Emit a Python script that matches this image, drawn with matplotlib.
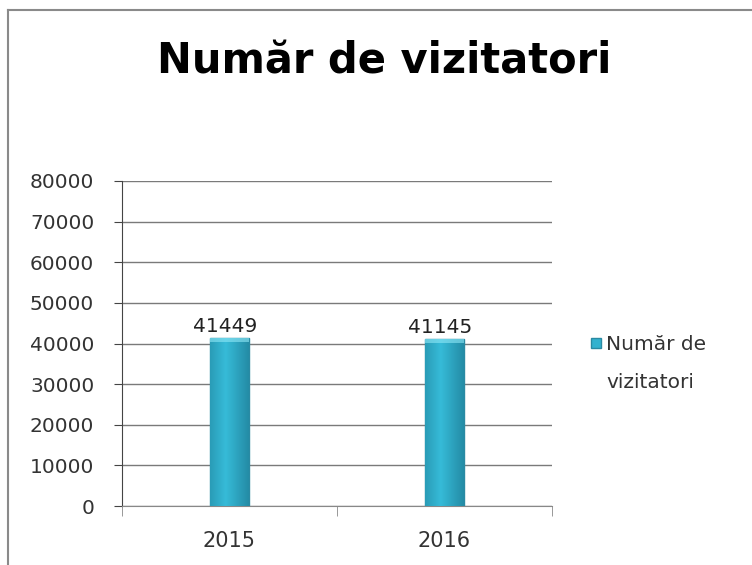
import numpy as np
import matplotlib.pyplot as plt
from matplotlib.lines import Line2D
from matplotlib.patches import Rectangle

years = ['2015', '2016']
visitors = [41449, 41145]
yticks = [0, 10000, 20000, 30000, 40000, 50000, 60000, 70000, 80000]
title = 'Număr de vizitatori'
series_lines = ['Număr de', 'vizitatori']

fig = plt.figure(figsize=(7.52, 5.65), dpi=100)
ax = fig.add_axes([122 / 752, 1 - 506 / 565, 430 / 752, 325 / 565])

# outer frame of the original chart (top and left edges only visible)
fig.add_artist(Line2D([8 / 752, 8 / 752], [0, 1 - 10 / 565], color='#8a8a8a', lw=1.5,
                      transform=fig.transFigure))
fig.add_artist(Line2D([8 / 752, 1], [1 - 10 / 565, 1 - 10 / 565], color='#8a8a8a', lw=1.5,
                      transform=fig.transFigure))

x = np.arange(len(years))
bars = ax.bar(x, visitors, width=0.18, color='#33b2cf', edgecolor='#2a8aa3', lw=1, zorder=3)

# horizontal shading inside each bar
grad = np.linspace(0, 1, 64)
shade = np.clip(1 - np.abs(grad - 0.4) * 1.3, 0, 1)
cmap = plt.matplotlib.colors.LinearSegmentedColormap.from_list('c', ['#1f7f98', '#36bbd8'])
for b in bars:
    x0, w, h = b.get_x(), b.get_width(), b.get_height()
    im = ax.imshow(shade[None, :], extent=[x0, x0 + w, 0, h], aspect='auto', cmap=cmap,
                   vmin=0, vmax=1, zorder=3.5)
    im.set_clip_path(b)
    ax.add_patch(Rectangle((x0, h - 1100), w, 1100, color='#8fe8f7', alpha=0.6, lw=0,
                           zorder=3.6, clip_path=b))

for xi, v in zip(x, visitors):
    ax.text(xi - 0.02, v + 400, str(v), ha='center', va='bottom', fontsize=14.5, color='#222222')

ax.set_xlim(-0.5, 1.5)
ax.set_ylim(0, 80000)
ax.set_yticks(yticks)
ax.set_yticklabels([str(t) for t in yticks], fontsize=14.5, color='#333333')
ax.set_xticks(x)
ax.set_xticklabels(years, fontsize=15, color='#333333')
ax.set_xticks([-0.5, 0.5, 1.5], minor=True)
ax.tick_params(axis='x', which='major', length=0, pad=18)
ax.tick_params(axis='x', which='minor', length=7, color='#888888', direction='out')
ax.tick_params(axis='y', length=6, color='#444444', pad=14, direction='out')

ax.yaxis.grid(True, color='#7a7a7a', lw=1, zorder=0)
ax.set_axisbelow(True)
for s in ['top', 'right']:
    ax.spines[s].set_visible(False)
ax.spines['left'].set_color('#444444')
ax.spines['bottom'].set_color('#888888')

fig.text(384 / 752, 1 - 61 / 565, title, ha='center', va='center', fontsize=30,
         fontweight='bold', color='black')

fig.add_artist(Rectangle((591 / 752, 1 - 348 / 565), 10 / 752, 10 / 565, facecolor='#33b2cf',
                         edgecolor='#2a8aa3', transform=fig.transFigure))
fig.text(606 / 752, 1 - 345 / 565, series_lines[0], ha='left', va='center', fontsize=14.5,
         color='#333333')
fig.text(606 / 752, 1 - 382 / 565, series_lines[1], ha='left', va='center', fontsize=14.5,
         color='#333333')

fig.savefig('out.png', dpi=100)
